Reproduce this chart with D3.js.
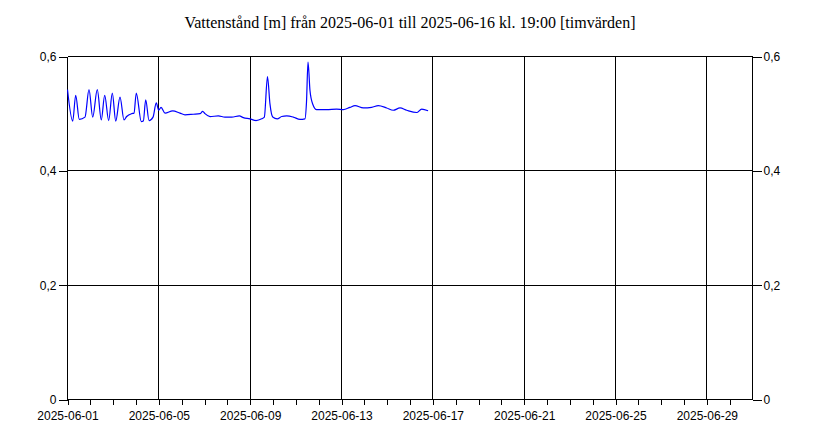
<!DOCTYPE html>
<html><head><meta charset="utf-8">
<script src="https://cdn.jsdelivr.net/npm/d3@7/dist/d3.min.js"></script>
<style>body{margin:0;background:#fff}svg{display:block}</style>
</head><body>
<svg id="c" width="820" height="444"></svg>
<script>
const title = "Vattenstånd [m] från 2025-06-01 till 2025-06-16 kl. 19:00 [timvärden]";
const startDate = "2025-06-01";
const endDate = "2025-07-01";
const yTicks = [0, 0.2, 0.4, 0.6];
const yTickLabels = ["0", "0,2", "0,4", "0,6"];
const majorTickDays = [0, 4, 8, 12, 16, 20, 24, 28];
// hours since 2025-06-01 00:00
const hours = [0,5.5,8.6,12.4,18.4,22.6,26.5,31.3,35.5,39.1,43.3,47.1,50.7,55.2,59.4,62.2,67.5,69.9,72.3,77.6,79.7,82.2,85.7,89.9,93.3,95.9,98.3,102.5,110.6,118.2,123.5,132.2,139.3,142.1,144.5,149.8,158.5,165.5,172.6,180.6,184.8,191.8,198.1,204.1,206.9,210.2,212.8,215.7,220.5,225.1,230.4,237.3,244.4,249.6,251.2,252.8,254.9,257.7,261.9,272.4,282.9,289.9,296.9,302.2,310.9,319.7,326.7,335.5,342.4,349.5,356.5,367.0,372.3,379];
const level = [0.542,0.487,0.532,0.490,0.494,0.542,0.494,0.542,0.489,0.532,0.488,0.536,0.487,0.529,0.489,0.495,0.500,0.501,0.536,0.486,0.487,0.524,0.488,0.494,0.519,0.506,0.511,0.501,0.505,0.501,0.498,0.499,0.500,0.504,0.500,0.495,0.496,0.494,0.494,0.496,0.493,0.491,0.488,0.491,0.494,0.565,0.517,0.494,0.491,0.495,0.496,0.494,0.490,0.491,0.520,0.590,0.540,0.517,0.507,0.507,0.508,0.507,0.511,0.514,0.510,0.511,0.514,0.510,0.506,0.510,0.506,0.502,0.508,0.505];

const svg = d3.select("#c");
const t0 = d3.timeParse("%Y-%m-%d")(startDate);
const t1 = d3.timeParse("%Y-%m-%d")(endDate);
const x = d3.scaleTime().domain([t0, t1]).range([67.5, 752.5]);
const y = d3.scaleLinear().domain([0, 0.6]).range([399.5, 56.5]);
const fmt = d3.timeFormat("%Y-%m-%d");

const data = hours.map((h, i) => ({t: new Date(t0.getTime() + h*3600000), v: level[i]}));

svg.append("text").attr("x", 410).attr("y", 28).attr("text-anchor", "middle")
  .attr("font-family", "Liberation Serif, Times New Roman, serif").attr("font-size", 16)
  .attr("fill", "#000").text(title);

const g = svg.append("g").attr("shape-rendering", "crispEdges");
g.selectAll(".hg").data(yTicks.filter(v => v > 0)).join("line")
  .attr("x1", x.range()[0]).attr("x2", x.range()[1])
  .attr("y1", d => y(d)).attr("y2", d => y(d)).attr("stroke", "#000");
const majors = majorTickDays.map(d => d3.timeDay.offset(t0, d));
g.selectAll(".vg").data(majors.slice(1)).join("line")
  .attr("x1", d => x(d)).attr("x2", d => x(d))
  .attr("y1", y(0.6)).attr("y2", y(0)).attr("stroke", "#000");
g.append("line").attr("x1", x.range()[0]).attr("x2", x.range()[0]).attr("y1", y(0.6)).attr("y2", y(0)).attr("stroke", "#000");
g.append("line").attr("x1", x.range()[1]).attr("x2", x.range()[1]).attr("y1", y(0.6)).attr("y2", y(0)).attr("stroke", "#000");

const xAxis = d3.axisBottom(x).tickValues(d3.timeDay.range(t0, t1)).tickSize(5).tickFormat("");
const xa = svg.append("g").attr("transform", `translate(0,${y(0)})`).call(xAxis);
xa.select(".domain").attr("d", `M${x.range()[0]},0H${x.range()[1]}`).attr("shape-rendering","crispEdges");
xa.selectAll(".tick line").attr("shape-rendering","crispEdges");
const xl = svg.append("g").attr("transform", `translate(0,${y(0)})`)
  .call(d3.axisBottom(x).tickValues(majors).tickSize(5).tickFormat(fmt));
xl.select(".domain").remove();
xl.selectAll(".tick line").attr("shape-rendering","crispEdges");
xl.selectAll("text").attr("font-family", "Liberation Sans, Arial, sans-serif").attr("font-size", 12).attr("fill", "#000").attr("dy", "1.05em");

const yl = svg.append("g").attr("transform", `translate(${x.range()[0]},0)`)
  .call(d3.axisLeft(y).tickValues(yTicks).tickSize(9).tickPadding(2).tickFormat((d, i) => yTickLabels[i]));
yl.select(".domain").remove();
yl.selectAll(".tick line").attr("shape-rendering","crispEdges");
yl.selectAll("text").attr("font-family", "Liberation Sans, Arial, sans-serif").attr("font-size", 12).attr("fill", "#000");
const yr = svg.append("g").attr("transform", `translate(${x.range()[1]},0)`)
  .call(d3.axisRight(y).tickValues(yTicks).tickSize(9).tickPadding(2).tickFormat((d, i) => yTickLabels[i]));
yr.select(".domain").remove();
yr.selectAll(".tick line").attr("shape-rendering","crispEdges");
yr.selectAll("text").attr("font-family", "Liberation Sans, Arial, sans-serif").attr("font-size", 12).attr("fill", "#000");

svg.append("path").datum(data)
  .attr("d", d3.line().curve(d3.curveMonotoneX).x(d => x(d.t)).y(d => y(d.v)))
  .attr("fill", "none").attr("stroke", "#0000ff").attr("stroke-width", 1.2);
</script>
</body></html>
